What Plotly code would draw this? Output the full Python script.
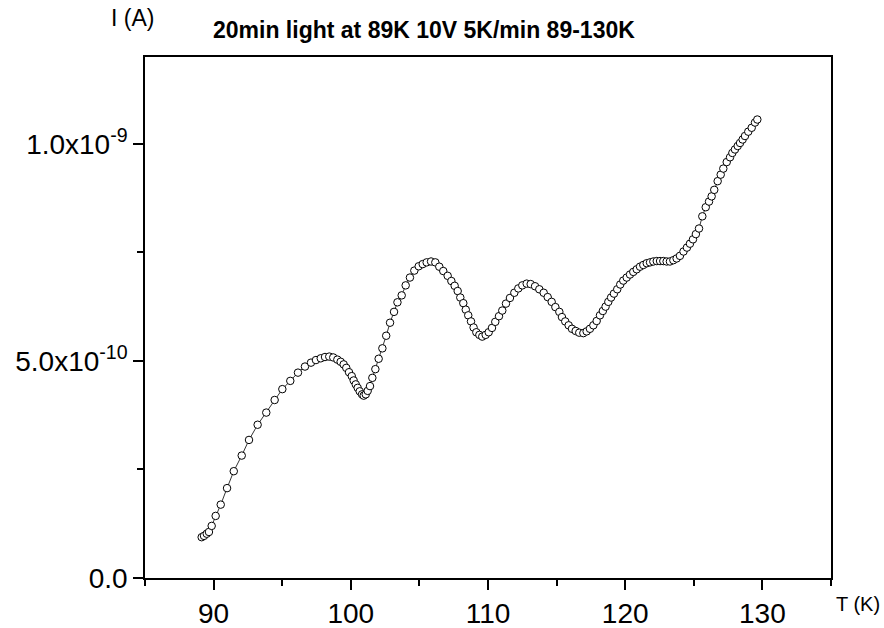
import plotly.graph_objects as go

# Temperature sweep (K) and measured current (units of 1e-10 A)
temperature_k = [
    89.13, 89.30, 89.50, 89.66, 89.86, 90.15, 90.52, 90.98, 91.47, 92.05,
    92.58, 93.21, 93.84, 94.45, 95.01, 95.59, 96.15, 96.66, 97.10, 97.46,
    97.81, 98.12, 98.43, 98.72, 99.02, 99.26, 99.48, 99.67, 99.87, 100.07,
    100.21, 100.36, 100.50, 100.65, 100.82, 100.94, 101.09, 101.23, 101.40, 101.57,
    101.79, 102.03, 102.30, 102.58, 102.86, 103.15, 103.40, 103.71, 104.00, 104.31,
    104.63, 104.95, 105.24, 105.53, 105.85, 106.16, 106.45, 106.74, 107.06, 107.33,
    107.57, 107.79, 107.98, 108.20, 108.38, 108.56, 108.76, 108.95, 109.15, 109.37,
    109.58, 109.83, 110.05, 110.29, 110.53, 110.80, 111.04, 111.31, 111.60, 111.92,
    112.21, 112.50, 112.82, 113.11, 113.43, 113.74, 114.06, 114.35, 114.64, 114.91,
    115.20, 115.39, 115.63, 115.88, 116.12, 116.39, 116.65, 116.95, 117.19, 117.43,
    117.68, 117.92, 118.16, 118.37, 118.57, 118.77, 118.97, 119.18, 119.42, 119.64,
    119.86, 120.11, 120.35, 120.59, 120.84, 121.08, 121.32, 121.57, 121.81, 122.05,
    122.30, 122.54, 122.78, 123.02, 123.26, 123.51, 123.75, 123.99, 124.25, 124.50,
    124.72, 124.94, 125.15, 125.38, 125.62, 125.87, 126.11, 126.30, 126.49, 126.74,
    126.96, 127.15, 127.40, 127.64, 127.81, 128.00, 128.20, 128.37, 128.56, 128.73,
    128.97, 129.22, 129.46, 129.63,
]

current_e10 = [
    0.94, 0.97, 1.02, 1.06, 1.20, 1.43, 1.69, 2.07, 2.46, 2.82,
    3.18, 3.53, 3.81, 4.10, 4.35, 4.54, 4.73, 4.87, 4.96, 5.02,
    5.06, 5.09, 5.10, 5.08, 5.03, 4.98, 4.92, 4.84, 4.74, 4.65,
    4.55, 4.46, 4.38, 4.30, 4.23, 4.20, 4.23, 4.31, 4.42, 4.61,
    4.81, 5.05, 5.29, 5.58, 5.88, 6.13, 6.35, 6.51, 6.74, 6.92,
    7.08, 7.18, 7.23, 7.27, 7.29, 7.27, 7.17, 7.07, 6.96, 6.84,
    6.73, 6.61, 6.46, 6.33, 6.18, 6.05, 5.91, 5.77, 5.66, 5.60,
    5.56, 5.60, 5.66, 5.76, 5.90, 6.03, 6.16, 6.32, 6.45, 6.57,
    6.67, 6.74, 6.78, 6.77, 6.72, 6.65, 6.57, 6.47, 6.36, 6.24,
    6.13, 6.01, 5.91, 5.82, 5.74, 5.69, 5.65, 5.64, 5.68, 5.74,
    5.82, 5.92, 6.05, 6.15, 6.25, 6.36, 6.46, 6.55, 6.65, 6.76,
    6.85, 6.92, 6.99, 7.05, 7.11, 7.17, 7.21, 7.25, 7.27, 7.29,
    7.30, 7.30, 7.30, 7.29, 7.29, 7.32, 7.36, 7.42, 7.52, 7.61,
    7.70, 7.80, 7.92, 8.05, 8.33, 8.54, 8.67, 8.79, 8.94, 9.14,
    9.29, 9.43, 9.58, 9.69, 9.79, 9.87, 9.95, 10.02, 10.10, 10.18,
    10.28, 10.37, 10.49, 10.56,
]

current_a = [v * 1e-10 for v in current_e10]

y_tick_vals = [0.0, 5.0e-10, 1.0e-9]
y_tick_text = ["0.0", "5.0x10<sup>-10</sup>", "1.0x10<sup>-9</sup>"]
y_minor_vals = [2.5e-10, 7.5e-10]

FONT = "Arial, Liberation Sans, sans-serif"

fig = go.Figure()
fig.add_trace(go.Scatter(
    x=temperature_k,
    y=current_a,
    mode="lines+markers",
    line=dict(color="black", width=0.8),
    marker=dict(symbol="circle", size=7.5, color="white",
                line=dict(color="black", width=1)),
    showlegend=False,
))

axis_common = dict(
    showgrid=False,
    zeroline=False,
    showline=True,
    linecolor="black",
    linewidth=1.5,
    mirror=True,
    ticks="outside",
    ticklen=10,
    tickwidth=1.5,
    tickcolor="black",
    automargin=False,
    tickfont=dict(family=FONT, size=28, color="black"),
)

fig.update_xaxes(
    range=[85, 135],
    tickmode="linear", tick0=90, dtick=10,
    minor=dict(ticks="outside", ticklen=6, tickwidth=1.5, tickcolor="black",
               tickmode="linear", tick0=85, dtick=5),
    **axis_common,
)
fig.update_yaxes(
    range=[0, 1.2e-9],
    tickmode="array", tickvals=y_tick_vals, ticktext=y_tick_text,
    minor=dict(ticks="outside", ticklen=6, tickwidth=1.5, tickcolor="black",
               tickmode="array", tickvals=y_minor_vals),
    **axis_common,
)

fig.update_layout(
    width=884,
    height=628,
    margin=dict(l=145, r=53, t=57, b=50),
    paper_bgcolor="white",
    plot_bgcolor="white",
    font=dict(family=FONT, color="black"),
    annotations=[
        dict(text="<b>20min light at 89K 10V 5K/min 89-130K</b>",
             xref="paper", yref="paper", x=0.407, y=1.0, yshift=27,
             xanchor="center", yanchor="middle", showarrow=False,
             font=dict(family=FONT, size=23, color="black")),
        dict(text="I (A)", xref="paper", yref="paper", x=0.0, y=1.0,
             xshift=-36, yshift=39, xanchor="left", yanchor="middle",
             showarrow=False, font=dict(family=FONT, size=23, color="black")),
        dict(text="T (K)", xref="paper", yref="paper", x=1.0, y=0.0,
             xshift=3, yshift=-26, xanchor="left", yanchor="middle",
             showarrow=False, font=dict(family=FONT, size=20, color="black")),
    ],
)

fig.write_html("out.html")
